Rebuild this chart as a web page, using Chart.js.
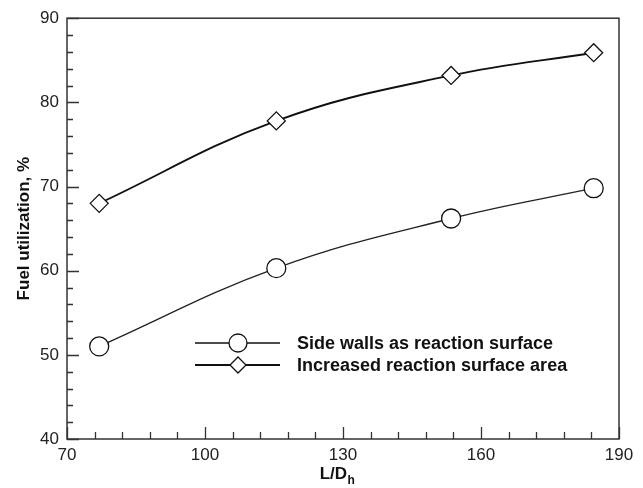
<!DOCTYPE html>
<html>
<head>
<meta charset="utf-8">
<script src="https://cdn.jsdelivr.net/npm/chart.js@4"></script>
<style>
  html, body { margin: 0; padding: 0; background: #fff; }
  #wrap { width: 643px; height: 488px; }
</style>
</head>
<body>
<div id="wrap"><canvas id="fuelChart"></canvas></div>
<script>
// L/Dh positions of the four channels
const ratios = [77, 115.5, 153.5, 184.5];
// fuel utilization, %
const sideWalls = [51, 60.3, 66.2, 69.8];
const increasedArea = [68, 77.8, 83.2, 85.9];
const seriesLabels = ["Side walls as reaction surface", "Increased reaction surface area"];
const xTitle = "L/D";
const xTitleSub = "h";
const yTitle = "Fuel utilization, %";

const FONT = "'Liberation Sans', Arial, sans-serif";

// frame, inward ticks, legend and x title
const decorPlugin = {
  id: "decor",
  afterDraw(chart) {
    const ctx = chart.ctx;
    const area = chart.chartArea;
    const xs = chart.scales.x;
    const ys = chart.scales.y;
    ctx.save();

    // box
    ctx.strokeStyle = "#333";
    ctx.lineWidth = 1.5;
    ctx.strokeRect(area.left, area.top, area.right - area.left, area.bottom - area.top);

    // ticks on left and bottom, pointing into the plot
    ctx.lineWidth = 1.3;
    ctx.beginPath();
    for (let v = 40; v <= 90; v += 2) {
      const y = Math.round(ys.getPixelForValue(v)) + 0.5;
      const len = v % 10 === 0 ? 12 : 6;
      ctx.moveTo(area.left, y);
      ctx.lineTo(area.left + len, y);
    }
    for (let v = 70; v <= 190; v += 6) {
      const x = Math.round(xs.getPixelForValue(v)) + 0.5;
      const len = (v - 70) % 30 === 0 ? 12 : 7;
      ctx.moveTo(x, area.bottom);
      ctx.lineTo(x, area.bottom - len);
    }
    ctx.stroke();

    // legend: line - marker - line, then label
    const rows = [
      { y: 343, ds: chart.data.datasets[0] },
      { y: 365, ds: chart.data.datasets[1] }
    ];
    rows.forEach((r) => {
      ctx.strokeStyle = "#111";
      ctx.lineWidth = r.ds.borderWidth;
      ctx.beginPath();
      ctx.moveTo(195, r.y);
      ctx.lineTo(280, r.y);
      ctx.stroke();
      ctx.fillStyle = "#fff";
      ctx.strokeStyle = "#111";
      ctx.beginPath();
      if (r.ds.pointStyle === "circle") {
        ctx.arc(238, r.y, r.ds.pointRadius - 0.5, 0, Math.PI * 2);
      } else {
        const h = r.ds.pointRadius - 1;
        ctx.moveTo(238, r.y - h);
        ctx.lineTo(238 + h, r.y);
        ctx.lineTo(238, r.y + h);
        ctx.lineTo(238 - h, r.y);
        ctx.closePath();
      }
      ctx.fill();
      ctx.lineWidth = 1.3;
      ctx.stroke();
      ctx.fillStyle = "#111";
      ctx.font = "bold 18px " + FONT;
      ctx.textAlign = "left";
      ctx.textBaseline = "middle";
      ctx.fillText(r.ds.label, 297, r.y + 1);
    });

    // x axis title with subscript
    ctx.fillStyle = "#111";
    ctx.textBaseline = "alphabetic";
    ctx.font = "bold 17px " + FONT;
    const mainW = ctx.measureText(xTitle).width;
    ctx.font = "bold 12px " + FONT;
    const subW = ctx.measureText(xTitleSub).width;
    const x0 = (area.left + area.right) / 2 - 6 - (mainW + subW) / 2;
    ctx.font = "bold 17px " + FONT;
    ctx.textAlign = "left";
    ctx.fillText(xTitle, x0, 479);
    ctx.font = "bold 12px " + FONT;
    ctx.fillText(xTitleSub, x0 + mainW + 0.5, 484);

    ctx.restore();
  }
};

const ctx = document.getElementById("fuelChart").getContext("2d");

const fuelChart = new Chart(ctx, {
  type: "line",
  data: {
    datasets: [
      {
        label: seriesLabels[0],
        data: ratios.map((r, i) => ({ x: r, y: sideWalls[i] })),
        borderColor: "#222",
        borderWidth: 1.3,
        backgroundColor: "#fff",
        pointStyle: "circle",
        pointRadius: 9.5,
        pointBorderWidth: 1.3,
        pointBorderColor: "#111",
        pointBackgroundColor: "#fff",
        tension: 0.4
      },
      {
        label: seriesLabels[1],
        data: ratios.map((r, i) => ({ x: r, y: increasedArea[i] })),
        borderColor: "#111",
        borderWidth: 1.9,
        backgroundColor: "#fff",
        pointStyle: "rectRot",
        pointRadius: 9,
        pointBorderWidth: 1.3,
        pointBorderColor: "#111",
        pointBackgroundColor: "#fff",
        tension: 0.4
      }
    ]
  },
  options: {
    responsive: true,
    maintainAspectRatio: false,
    animation: false,
    layout: { padding: { top: 17, right: 24, left: 0, bottom: 0 } },
    plugins: {
      legend: { display: false },
      tooltip: { enabled: false }
    },
    scales: {
      x: {
        type: "linear",
        min: 70,
        max: 190,
        grid: { display: false, drawTicks: false },
        border: { display: false },
        ticks: {
          stepSize: 30,
          padding: 6,
          color: "#222",
          font: { family: FONT, size: 17 }
        },
        afterFit(scale) { scale.height = 49; }
      },
      y: {
        min: 40,
        max: 90,
        grid: { display: false, drawTicks: false },
        border: { display: false },
        ticks: {
          stepSize: 10,
          padding: 8,
          color: "#222",
          font: { family: FONT, size: 17 }
        },
        title: {
          display: true,
          text: yTitle,
          color: "#111",
          font: { family: FONT, size: 17, weight: "bold" },
          padding: { top: 14, bottom: 0 }
        },
        afterFit(scale) { scale.width = 67; }
      }
    }
  },
  plugins: [decorPlugin]
});
</script>
</body>
</html>
